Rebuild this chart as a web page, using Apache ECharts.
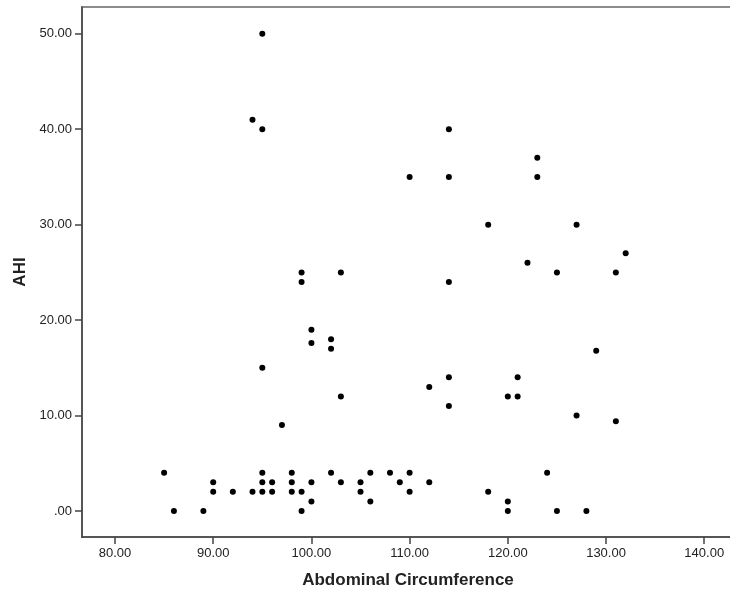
<!DOCTYPE html>
<html>
<head>
<meta charset="utf-8">
<title>AHI vs Abdominal Circumference</title>
<script src="https://cdn.jsdelivr.net/npm/echarts@6/dist/echarts.min.js"></script>
<style>
  html, body { margin: 0; padding: 0; background: #fff; }
  #chart { width: 730px; height: 593px; }
</style>
</head>
<body>
<div id="chart"></div>
<script>
// Abdominal circumference (cm) for each subject
var circumference = [
  85, 86, 89, 90, 90, 92, 94, 94, 95, 95, 95, 95, 95, 95, 96, 96, 97, 98, 98, 98,
  99, 99, 99, 99, 100, 100, 100, 100, 102, 102, 102, 103, 103, 103, 105, 105, 106, 106,
  108, 109, 110, 110, 110, 112, 112, 114, 114, 114, 114, 114, 118, 118, 120, 120, 120,
  121, 121, 122, 123, 123, 124, 125, 125, 127, 127, 128, 129, 131, 131, 132
];
// Apnea-hypopnea index for the same subjects
var ahi = [
  4, 0, 0, 3, 2, 2, 2, 41, 50, 40, 15, 4, 3, 2, 3, 2, 9, 4, 3, 2,
  25, 24, 2, 0, 19, 17.6, 3, 1, 18, 17, 4, 25, 12, 3, 3, 2, 4, 1,
  4, 3, 35, 4, 2, 13, 3, 40, 35, 24, 14, 11, 30, 2, 12, 1, 0,
  14, 12, 26, 37, 35, 4, 25, 0, 30, 10, 0, 16.8, 25, 9.4, 27
];
// Tick positions
var xTicks = [80, 90, 100, 110, 120, 130, 140];
var yTicks = [0, 10, 20, 30, 40, 50];

var points = circumference.map(function (c, i) { return [c, ahi[i]]; });

function fmt(v) {
  var s = Number(v).toFixed(2);
  return v === 0 ? s.replace(/^0/, '') : s;
}

var font = '"Liberation Sans", Arial, sans-serif';
var chart = echarts.init(document.getElementById('chart'), null, { renderer: 'canvas' });
chart.setOption({
  animation: false,
  backgroundColor: '#fff',
  grid: {
    left: 82, top: 7, right: -4, bottom: 56,
    containLabel: false,
    outerBoundsMode: 'none',
    show: true, borderColor: '#8c8c8c', borderWidth: 2, backgroundColor: 'transparent'
  },
  xAxis: {
    type: 'value',
    min: 76.64, max: 143.03,
    name: 'Abdominal Circumference',
    nameLocation: 'middle',
    nameGap: 35,
    nameTextStyle: { fontFamily: font, fontSize: 17, fontWeight: 'bold', color: '#222' },
    axisLine: { show: true, onZero: false, lineStyle: { color: '#444', width: 1.5 } },
    axisTick: { show: true, length: 7, customValues: xTicks, lineStyle: { color: '#444', width: 1.5 } },
    axisLabel: { customValues: xTicks, margin: 10, fontFamily: font, fontSize: 13, color: '#222', formatter: fmt },
    splitLine: { show: false }
  },
  yAxis: {
    type: 'value',
    min: -2.73, max: 52.81,
    name: 'AHI',
    nameLocation: 'middle',
    nameGap: 47,
    nameRotate: 90,
    nameTextStyle: { fontFamily: font, fontSize: 17, fontWeight: 'bold', color: '#222' },
    axisLine: { show: true, onZero: false, lineStyle: { color: '#444', width: 1.5 } },
    axisTick: { show: true, length: 7, customValues: yTicks, lineStyle: { color: '#444', width: 1.5 } },
    axisLabel: { customValues: yTicks, margin: 10, fontFamily: font, fontSize: 13, color: '#222', formatter: fmt },
    splitLine: { show: false }
  },
  series: [{
    type: 'scatter',
    data: points,
    symbol: 'circle',
    symbolSize: 6,
    itemStyle: { color: '#000', opacity: 1 },
    emphasis: { disabled: true }
  }]
});
</script>
</body>
</html>
